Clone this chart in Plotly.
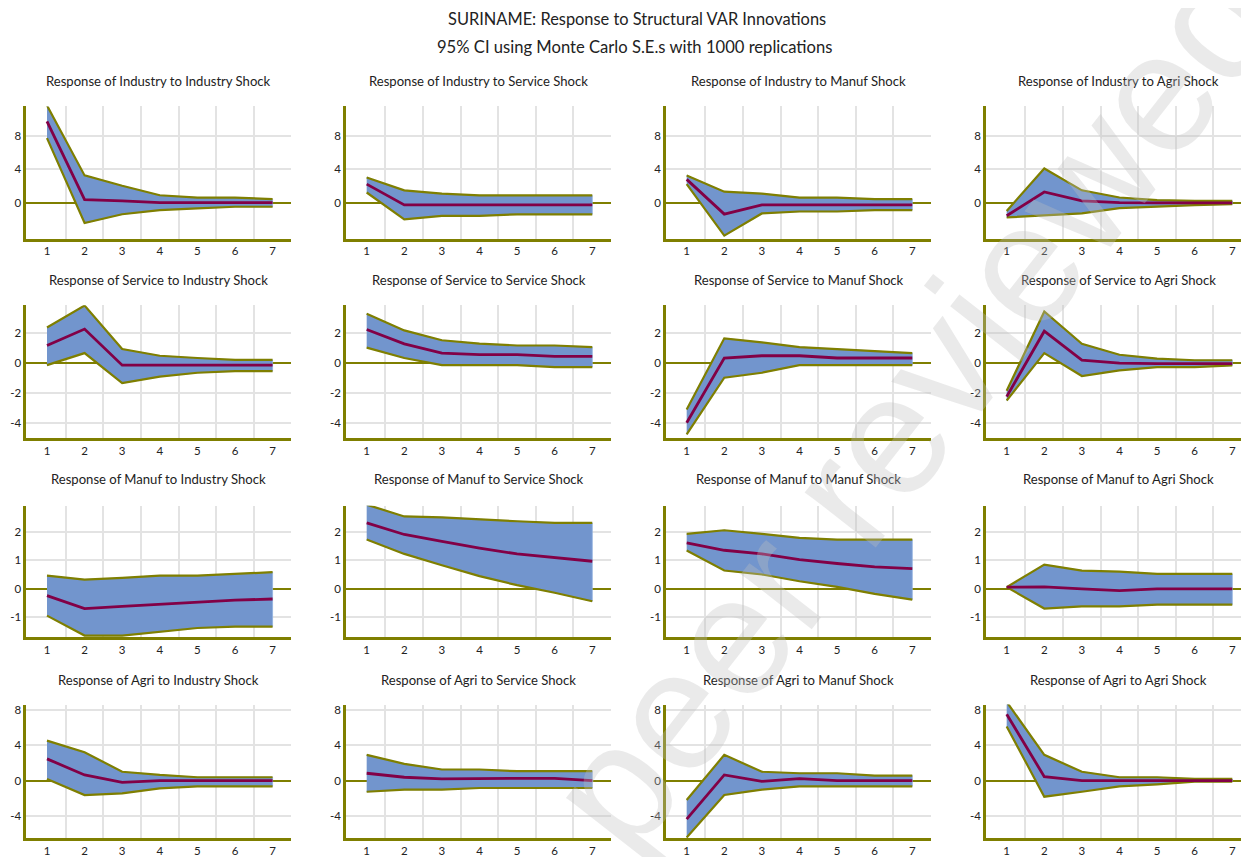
import plotly.graph_objects as go

periods = [1, 2, 3, 4, 5, 6, 7]
variables = ["Industry", "Service", "Manuf", "Agri"]

# response of <row variable> to <column shock>: lower bound, response, upper bound
ind_ind_lo = [7.7, -2.45, -1.4, -0.9, -0.7, -0.5, -0.5]
ind_ind_md = [9.7, 0.36, 0.2, 0.0, 0.0, 0.0, 0.0]
ind_ind_up = [11.6, 3.24, 2.0, 0.87, 0.6, 0.6, 0.4]

ind_ser_lo = [1.2, -2.0, -1.6, -1.6, -1.4, -1.4, -1.4]
ind_ser_md = [2.2, -0.28, -0.28, -0.28, -0.28, -0.28, -0.28]
ind_ser_up = [3.0, 1.46, 1.07, 0.85, 0.85, 0.85, 0.85]

ind_man_lo = [2.2, -3.95, -1.3, -1.07, -1.07, -0.9, -0.9]
ind_man_md = [2.77, -1.38, -0.28, -0.28, -0.28, -0.28, -0.28]
ind_man_up = [3.24, 1.3, 1.07, 0.6, 0.6, 0.4, 0.4]

ind_agr_lo = [-1.78, -1.58, -1.3, -0.67, -0.47, -0.3, -0.2]
ind_agr_md = [-1.58, 1.26, 0.2, 0.0, -0.03, -0.03, -0.03]
ind_agr_up = [-1.0, 4.07, 1.46, 0.6, 0.3, 0.2, 0.2]

ser_ind_lo = [-0.13, 0.68, -1.34, -0.9, -0.64, -0.53, -0.53]
ser_ind_md = [1.19, 2.29, -0.13, -0.13, -0.13, -0.13, -0.13]
ser_ind_up = [2.4, 3.87, 0.95, 0.5, 0.35, 0.22, 0.22]

ser_ser_lo = [1.05, 0.35, -0.13, -0.13, -0.13, -0.26, -0.26]
ser_ser_md = [2.26, 1.3, 0.68, 0.57, 0.57, 0.46, 0.46]
ser_ser_up = [3.32, 2.2, 1.54, 1.32, 1.19, 1.19, 1.08]

ser_man_lo = [-4.77, -0.97, -0.64, -0.13, -0.13, -0.13, -0.13]
ser_man_md = [-4.0, 0.35, 0.5, 0.5, 0.35, 0.35, 0.35]
ser_man_up = [-3.1, 1.67, 1.4, 1.08, 0.95, 0.84, 0.68]

ser_agr_lo = [-2.5, 0.68, -0.86, -0.48, -0.26, -0.26, -0.15]
ser_agr_md = [-2.24, 2.15, 0.2, 0.0, -0.03, -0.03, -0.03]
ser_agr_up = [-1.85, 3.47, 1.3, 0.57, 0.31, 0.2, 0.2]

man_ind_lo = [-0.96, -1.67, -1.67, -1.54, -1.4, -1.35, -1.35]
man_ind_md = [-0.25, -0.71, -0.63, -0.55, -0.48, -0.41, -0.37]
man_ind_up = [0.46, 0.32, 0.38, 0.46, 0.46, 0.52, 0.58]

man_ser_lo = [1.74, 1.23, 0.83, 0.44, 0.12, -0.15, -0.45]
man_ser_md = [2.33, 1.92, 1.68, 1.44, 1.23, 1.11, 0.97]
man_ser_up = [2.98, 2.56, 2.53, 2.45, 2.39, 2.33, 2.33]

man_man_lo = [1.35, 0.64, 0.5, 0.26, 0.06, -0.19, -0.39]
man_man_md = [1.62, 1.36, 1.23, 1.03, 0.89, 0.77, 0.71]
man_man_up = [1.94, 2.07, 1.94, 1.8, 1.74, 1.74, 1.74]

man_agr_lo = [0.05, -0.71, -0.63, -0.63, -0.57, -0.57, -0.57]
man_agr_md = [0.05, 0.06, -0.01, -0.07, -0.01, -0.01, -0.01]
man_agr_up = [0.05, 0.85, 0.64, 0.6, 0.52, 0.52, 0.52]

agr_ind_lo = [0.19, -1.62, -1.43, -0.87, -0.64, -0.64, -0.64]
agr_ind_md = [2.45, 0.64, -0.19, 0.0, 0.0, 0.0, 0.0]
agr_ind_up = [4.5, 3.2, 1.0, 0.64, 0.38, 0.38, 0.38]

agr_ser_lo = [-1.25, -1.02, -1.02, -0.83, -0.83, -0.83, -0.83]
agr_ser_md = [0.83, 0.38, 0.19, 0.26, 0.26, 0.26, 0.0]
agr_ser_up = [2.9, 1.89, 1.25, 1.25, 1.06, 1.06, 1.06]

agr_man_lo = [-6.4, -1.62, -1.02, -0.64, -0.64, -0.64, -0.64]
agr_man_md = [-4.34, 0.64, -0.08, 0.23, 0.0, 0.0, 0.0]
agr_man_up = [-2.19, 2.9, 1.0, 0.83, 0.83, 0.57, 0.57]

agr_agr_lo = [6.1, -1.81, -1.25, -0.64, -0.42, -0.11, -0.11]
agr_agr_md = [7.47, 0.45, 0.0, 0.0, 0.0, 0.0, 0.0]
agr_agr_up = [8.87, 2.9, 1.0, 0.38, 0.38, 0.19, 0.19]

panels = [
    [(ind_ind_lo, ind_ind_md, ind_ind_up), (ind_ser_lo, ind_ser_md, ind_ser_up),
     (ind_man_lo, ind_man_md, ind_man_up), (ind_agr_lo, ind_agr_md, ind_agr_up)],
    [(ser_ind_lo, ser_ind_md, ser_ind_up), (ser_ser_lo, ser_ser_md, ser_ser_up),
     (ser_man_lo, ser_man_md, ser_man_up), (ser_agr_lo, ser_agr_md, ser_agr_up)],
    [(man_ind_lo, man_ind_md, man_ind_up), (man_ser_lo, man_ser_md, man_ser_up),
     (man_man_lo, man_man_md, man_man_up), (man_agr_lo, man_agr_md, man_agr_up)],
    [(agr_ind_lo, agr_ind_md, agr_ind_up), (agr_ser_lo, agr_ser_md, agr_ser_up),
     (agr_man_lo, agr_man_md, agr_man_up), (agr_agr_lo, agr_agr_md, agr_agr_up)],
]

row_ticks = [[0, 4, 8], [-4, -2, 0, 2], [-1, 0, 1, 2], [-4, 0, 4, 8]]
row_ranges = [[-4.31, 11.48], [-5.05, 3.89], [-1.73, 2.94], [-6.47, 8.56]]

title_main = "SURINAME: Response to Structural VAR Innovations"
title_sub = "95% CI using Monte Carlo S.E.s with 1000 replications"
watermark = "peer reviewed"

# page body has an 8px margin: the figure starts at (8, 8) in the window
OFF = 8
WIN_W, WIN_H = 1249, 857
W, H = WIN_W - OFF, WIN_H - OFF
FONT = "Lato, 'Open Sans', sans-serif"
OLIVE = "#7f7f00"
FILL = "#7295cd"
MID = "#820046"
GRID = "#e3e3e3"

col_left = [26.3, 346.0, 666.0, 986.0]   # window pixels
px_per_unit = 37.6
panel_w = 265.0
row_top = [105.0, 305.0, 506.7, 706.7]
row_bot = [238.0, 439.0, 639.0, 841.0]
title_y = [79, 280, 480, 682]


def px(xw):
    return (xw - OFF) / W


def py(yw):
    return 1 - (yw - OFF) / H


fig = go.Figure()
layout = {}
annotations = []

for r in range(4):
    for c in range(4):
        k = r * 4 + c + 1
        xa = "x" if k == 1 else f"x{k}"
        ya = "y" if k == 1 else f"y{k}"
        lo, md, up = panels[r][c]
        fig.add_trace(go.Scatter(
            x=periods + periods[::-1], y=up + lo[::-1], fill="toself",
            fillcolor=FILL, line=dict(width=0.8, color="#8fb0e0"), mode="lines",
            hoverinfo="skip", showlegend=False, xaxis=xa, yaxis=ya))
        fig.add_trace(go.Scatter(x=periods, y=up, mode="lines",
                                 line=dict(color=OLIVE, width=2.2),
                                 showlegend=False, xaxis=xa, yaxis=ya))
        fig.add_trace(go.Scatter(x=periods, y=lo, mode="lines",
                                 line=dict(color=OLIVE, width=2.2),
                                 showlegend=False, xaxis=xa, yaxis=ya))
        fig.add_trace(go.Scatter(x=periods, y=md, mode="lines",
                                 line=dict(color=MID, width=2.8),
                                 showlegend=False, xaxis=xa, yaxis=ya))
        left = col_left[c]
        right = min(left + panel_w, WIN_W)
        xr_hi = 0.45 + (right - left) / px_per_unit
        xkey = "xaxis" if k == 1 else f"xaxis{k}"
        ykey = "yaxis" if k == 1 else f"yaxis{k}"
        layout[xkey] = dict(
            domain=[px(left), min(px(right), 1.0)], range=[0.45, xr_hi], anchor=ya,
            tickvals=periods, ticktext=[str(p) for p in periods],
            showgrid=False, zeroline=False, showline=True, linecolor=OLIVE,
            linewidth=2.5, ticks="", tickfont=dict(family=FONT, size=11.5, color="#222"),
            minor=dict(tickvals=[1.5, 2.5, 3.5, 4.5, 5.5, 6.5], showgrid=True,
                       gridcolor=GRID, gridwidth=1.5, ticks=""),
            fixedrange=True)
        layout[ykey] = dict(
            domain=[py(row_bot[r]), py(row_top[r])], range=row_ranges[r],
            anchor=xa, tickvals=row_ticks[r], ticktext=[str(t) for t in row_ticks[r]],
            showgrid=True, gridcolor=GRID, gridwidth=1.5,
            zeroline=True, zerolinecolor=OLIVE, zerolinewidth=2,
            showline=True, linecolor=OLIVE, linewidth=2.5, ticks="",
            tickfont=dict(family=FONT, size=11.5, color="#222"), fixedrange=True)
        annotations.append(dict(
            text=f"Response of {variables[r]} to {variables[c]} Shock",
            x=px(col_left[c] + panel_w / 2), y=py(title_y[r]),
            xref="paper", yref="paper", showarrow=False, xanchor="center", yanchor="middle",
            font=dict(family=FONT, size=13.1, color="#222")))

annotations.append(dict(text=title_main, x=px(637), y=py(17), xref="paper", yref="paper",
                        showarrow=False, xanchor="center", yanchor="middle",
                        font=dict(family=FONT, size=16.4, color="#222")))
annotations.append(dict(text=title_sub, x=px(634), y=py(45), xref="paper", yref="paper",
                        showarrow=False, xanchor="center", yanchor="middle",
                        font=dict(family=FONT, size=16.6, color="#222")))
# faint diagonal watermark of the source page
annotations.append(dict(text=watermark, x=px(912), y=py(405), xref="paper", yref="paper",
                        showarrow=False, xanchor="center", yanchor="middle", textangle=-52,
                        font=dict(family="Liberation Sans, Arial, sans-serif", size=170,
                                  color="rgba(190,190,190,0.33)")))

fig.update_layout(width=W, height=H, margin=dict(l=0, r=0, t=0, b=0),
                  paper_bgcolor="white", plot_bgcolor="white",
                  annotations=annotations, showlegend=False, **layout)

fig.write_html("out.html")
